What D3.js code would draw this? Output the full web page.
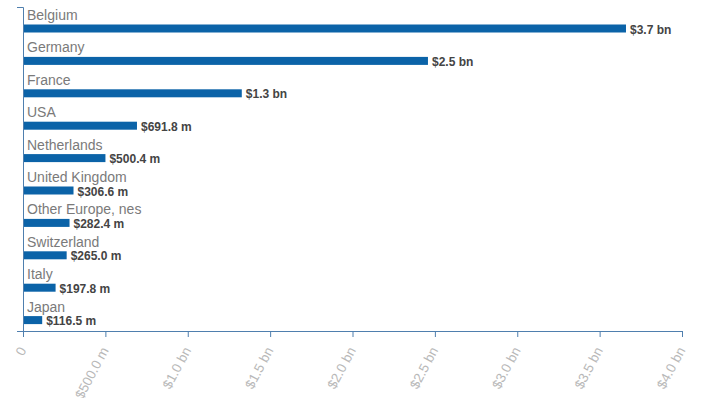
<!DOCTYPE html>
<html>
<head>
<meta charset="utf-8">
<script src="https://cdn.jsdelivr.net/npm/d3@7"></script>
<style>
  body { margin: 0; background: #fff; }
  svg text { font-family: "Liberation Sans", Arial, sans-serif; }
  .axis path, .axis line { stroke: #4f7fae; }
  .x-axis text { fill: #b8b8b8; font-size: 13.5px; }
</style>
</head>
<body>
<div id="chart"></div>
<script>
// partner countries and their values (USD)
const countries = ['Belgium', 'Germany', 'France', 'USA', 'Netherlands', 'United Kingdom',
    'Other Europe, nes', 'Switzerland', 'Italy', 'Japan'];
const values = [3.66e9, 2.458e9, 1.328e9, 691.8e6, 500.4e6, 306.6e6, 282.4e6, 265.0e6, 197.8e6, 116.5e6];
const tickValues = [0, 0.5e9, 1e9, 1.5e9, 2e9, 2.5e9, 3e9, 3.5e9, 4e9];

const data = countries.map((c, i) => ({ name: c, value: values[i] }));

const width = 701, height = 398;
const margin = { top: 7, right: 19, bottom: 67, left: 23 };

function money(v) {
    if (v === 0) return '0';
    if (v >= 1e9) return '$' + (v / 1e9).toFixed(1) + ' bn';
    return '$' + (v / 1e6).toFixed(1) + ' m';
}

const svg = d3.select('#chart')
    .append('svg')
    .attr('width', width)
    .attr('height', height);

const xScale = d3.scaleLinear()
    .domain([0, 4e9])
    .range([margin.left, width - margin.right]);

const yScale = d3.scaleBand()
    .domain(countries)
    .range([margin.top, height - margin.bottom])
    .padding(0);

// bars
svg.selectAll('.bar')
    .data(data)
    .join('rect')
    .attr('class', 'bar')
    .attr('x', xScale(0))
    .attr('y', d => yScale(d.name) + 17.5)
    .attr('width', d => xScale(d.value) - xScale(0))
    .attr('height', 8)
    .attr('fill', '#0b63a8');

// country labels
svg.selectAll('.cat-label')
    .data(data)
    .join('text')
    .attr('class', 'cat-label')
    .attr('x', xScale(0) + 4)
    .attr('y', d => yScale(d.name) + 13)
    .attr('fill', '#7a7a7a')
    .style('font-size', '14px')
    .text(d => d.name);

// value labels
svg.selectAll('.val-label')
    .data(data)
    .join('text')
    .attr('class', 'val-label')
    .attr('x', d => xScale(d.value) + 4)
    .attr('y', d => yScale(d.name) + 26.5)
    .attr('fill', '#444')
    .style('font-size', '12px')
    .style('font-weight', 'bold')
    .text(d => money(d.value));

// y axis (no labels, just the line with outer ticks)
svg.append('g')
    .attr('class', 'axis y-axis')
    .attr('transform', `translate(${margin.left},0)`)
    .call(d3.axisLeft(yScale).tickValues([]).tickSizeOuter(6));

// x axis
const xAxis = svg.append('g')
    .attr('class', 'axis x-axis')
    .attr('transform', `translate(0,${height - margin.bottom})`)
    .call(d3.axisBottom(xScale).tickValues(tickValues).tickFormat(money).tickSize(6).tickSizeOuter(6));

xAxis.selectAll('text')
    .attr('text-anchor', 'end')
    .attr('x', 0)
    .attr('y', 0)
    .attr('dy', '0.35em')
    .attr('transform', 'translate(-1,17) rotate(-62)');
</script>
</body>
</html>
